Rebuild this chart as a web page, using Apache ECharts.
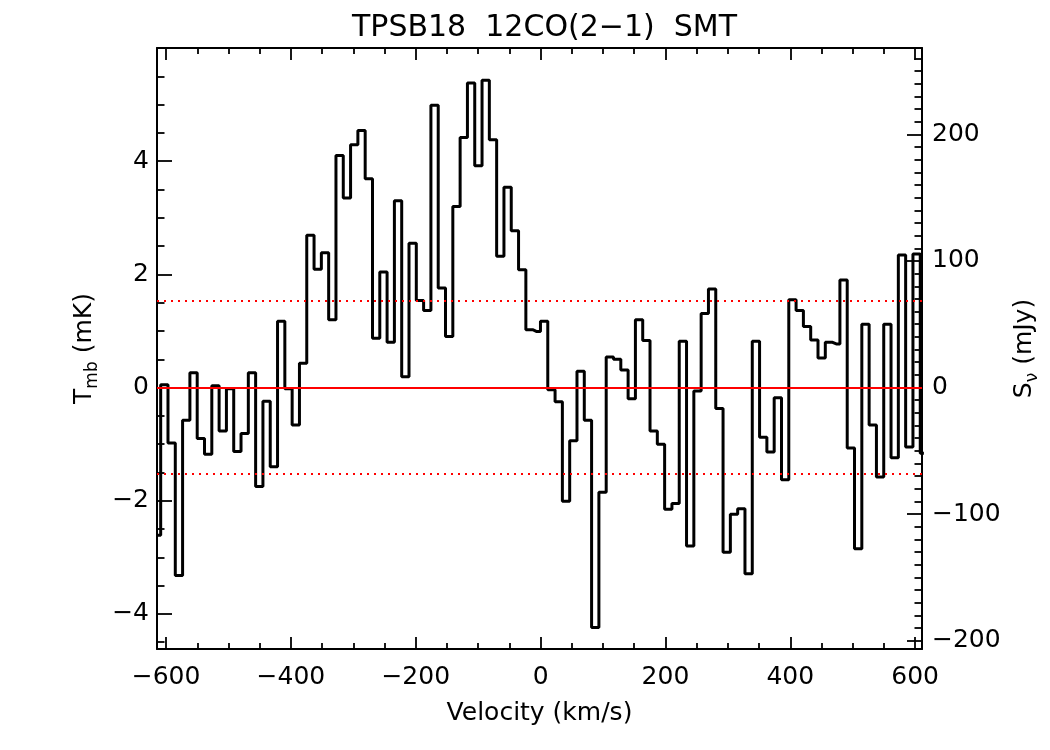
<!DOCTYPE html>
<html><head><meta charset="utf-8">
<script src="https://cdn.jsdelivr.net/npm/echarts@6/dist/echarts.min.js"></script>
<style>html,body{margin:0;padding:0;background:#fff}#c{width:1050px;height:750px}</style>
</head><body><div id="c"></div>
<script>
// Channel velocities (km/s)
const velocity = [
-614.45,-602.75,-591.05,-579.35,-567.65,-555.95,-544.25,-532.55,-520.85,-509.15,
-497.45,-485.75,-474.05,-462.35,-450.65,-438.95,-427.25,-415.55,-403.85,-392.15,
-380.45,-368.75,-357.05,-345.35,-333.65,-321.95,-310.25,-298.55,-286.85,-275.15,
-263.45,-251.75,-240.05,-228.35,-216.65,-204.95,-193.25,-181.55,-169.85,-158.15,
-146.45,-134.75,-123.05,-111.35,-99.65,-87.95,-76.25,-64.55,-52.85,-41.15,
-29.45,-17.75,-6.05,5.65,17.35,29.05,40.75,52.45,64.15,75.85,
87.55,99.25,110.95,122.65,134.35,146.05,157.75,169.45,181.15,192.85,
204.55,216.25,227.95,239.65,251.35,263.05,274.75,286.45,298.15,309.85,
321.55,333.25,344.95,356.65,368.35,380.05,391.75,403.45,415.15,426.85,
438.55,450.25,461.95,473.65,485.35,497.05,508.75,520.45,532.15,543.85,
555.55,567.25,578.95,590.65,602.35,614.05
];
// Main-beam temperature (mK)
const tmb = [
-2.61,0.05,-0.98,-3.32,-0.58,0.26,-0.90,-1.18,0.03,-0.77,
-0.02,-1.13,-0.81,0.26,-1.75,-0.24,-1.40,1.17,-0.02,-0.66,
0.43,2.69,2.09,2.38,1.20,4.10,3.35,4.29,4.54,3.69,
0.87,2.04,0.80,3.30,0.19,2.55,1.54,1.36,4.99,1.76,
0.90,3.20,4.42,5.38,3.92,5.43,4.38,2.32,3.54,2.77,
2.08,1.02,0.99,1.17,-0.04,-0.25,-2.01,-0.94,0.29,-0.58,
-4.24,-1.85,0.54,0.50,0.31,-0.20,1.20,0.83,-0.77,-1.00,
-2.15,-2.05,0.82,-2.80,-0.06,1.31,1.74,-0.37,-2.91,-2.24,
-2.14,-3.29,0.82,-0.88,-1.14,-0.18,-1.63,1.55,1.36,1.08,
0.84,0.52,0.80,0.77,1.90,-1.07,-2.85,1.12,-0.66,-1.58,
1.12,-1.24,2.34,-1.05,2.36,-1.16
];
const zeroLevel = 0;
const rmsLevel = 1.53;
const mJyPerMk = 44.7;
const xRange = [-614.5, 611.0];
const yRange = [-4.62, 6.0];
const xMajorTicks = [-600,-400,-200,0,200,400,600];
const xMinorTicks = [-550,-500,-450,-350,-300,-250,-150,-100,-50,50,100,150,250,300,350,450,500,550];
const yMajorTicks = [-4,-2,0,2,4];
const yMinorTicks = [-4.5,-3.5,-3,-2.5,-1.5,-1,-0.5,0.5,1,1.5,2.5,3,3.5,4.5,5,5.5];
const sMajorTicks = [-200,-100,0,100,200];
const sMinorTicks = [-190,-180,-170,-160,-150,-140,-130,-120,-110,-90,-80,-70,-60,-50,-40,-30,-20,-10,
  10,20,30,40,50,60,70,80,90,110,120,130,140,150,160,170,180,190,210,220,230,240,250,260];

const FONT = 'DejaVu Sans';
const fmt = v => String(v).replace('-', '\u2212');
const lbl = {color:'#000', fontFamily: FONT, fontSize: 25};

function axisBase(extra) {
  return Object.assign({
    type: 'value', scale: false,
    splitLine: {show: false},
    axisLine: {show: false, onZero: false, lineStyle: {color: '#000', width: 2}},
    axisLabel: {show: false},
    axisTick: {show: true, inside: true, lineStyle: {color: '#000', width: 1.8}}
  }, extra);
}

const chart = echarts.init(document.getElementById('c'), null, {renderer: 'canvas'});
chart.setOption({
  animation: false,
  backgroundColor: '#fff',
  title: {
    text: 'TPSB18  12CO(2\u22121)  SMT',
    left: 539.5, top: 8, textAlign: 'center',
    textStyle: {color: '#000', fontFamily: FONT, fontSize: 30, fontWeight: 'normal'}
  },
  grid: {left: 157, top: 48, width: 765, height: 601, containLabel: false},
  xAxis: [
    axisBase({position: 'bottom', min: xRange[0], max: xRange[1],
      axisLine: {show: true, onZero: false, lineStyle: {color: '#000', width: 2}},
      axisTick: {show: true, inside: true, length: 12, customValues: xMajorTicks, lineStyle: {color: '#000', width: 1.8}},
      axisLabel: Object.assign({show: true, margin: 16, customValues: xMajorTicks, formatter: fmt}, lbl),
      name: 'Velocity (km/s)', nameLocation: 'middle', nameGap: 52,
      nameTextStyle: {color: '#000', fontFamily: FONT, fontSize: 25}
    }),
    axisBase({position: 'bottom', min: xRange[0], max: xRange[1],
      axisTick: {show: true, inside: true, length: 6, customValues: xMinorTicks, lineStyle: {color: '#000', width: 1.8}}}),
    axisBase({position: 'top', min: xRange[0], max: xRange[1],
      axisLine: {show: true, onZero: false, lineStyle: {color: '#000', width: 2}},
      axisTick: {show: true, inside: true, length: 12, customValues: xMajorTicks, lineStyle: {color: '#000', width: 1.8}}}),
    axisBase({position: 'top', min: xRange[0], max: xRange[1],
      axisTick: {show: true, inside: true, length: 6, customValues: xMinorTicks, lineStyle: {color: '#000', width: 1.8}}})
  ],
  yAxis: [
    axisBase({position: 'left', min: yRange[0], max: yRange[1],
      axisLine: {show: true, onZero: false, lineStyle: {color: '#000', width: 2}},
      axisTick: {show: true, inside: true, length: 15, customValues: yMajorTicks, lineStyle: {color: '#000', width: 1.8}},
      axisLabel: Object.assign({show: true, margin: 8, customValues: yMajorTicks, formatter: fmt}, lbl),
      name: '{a|T}{b|mb}{a| (mK)}', nameLocation: 'middle', nameGap: 55,
      nameTextStyle: {rich: {
        a: {color: '#000', fontFamily: FONT, fontSize: 25, lineHeight: 34},
        b: {color: '#000', fontFamily: FONT, fontSize: 17, lineHeight: 17, verticalAlign: 'bottom'}
      }}
    }),
    axisBase({position: 'left', min: yRange[0], max: yRange[1],
      axisTick: {show: true, inside: true, length: 7.5, customValues: yMinorTicks, lineStyle: {color: '#000', width: 1.8}}}),
    axisBase({position: 'right', min: yRange[0] * mJyPerMk, max: yRange[1] * mJyPerMk,
      axisLine: {show: true, onZero: false, lineStyle: {color: '#000', width: 2}},
      axisTick: {show: true, inside: true, length: 15, customValues: sMajorTicks, lineStyle: {color: '#000', width: 1.8}},
      axisLabel: Object.assign({show: true, margin: 10, customValues: sMajorTicks, formatter: fmt}, lbl),
      name: '{a|S}{b|\u03bd}{a| (mJy)}', nameLocation: 'middle', nameGap: 83,
      nameTextStyle: {rich: {
        a: {color: '#000', fontFamily: FONT, fontSize: 25, lineHeight: 34},
        b: {color: '#000', fontFamily: FONT, fontSize: 17, lineHeight: 17, verticalAlign: 'bottom'}
      }}
    }),
    axisBase({position: 'right', min: yRange[0] * mJyPerMk, max: yRange[1] * mJyPerMk,
      axisTick: {show: true, inside: true, length: 7.5, customValues: sMinorTicks, lineStyle: {color: '#000', width: 1.8}}})
  ],
  series: [{
    type: 'line', xAxisIndex: 0, yAxisIndex: 0,
    step: 'middle', showSymbol: false, symbol: 'none', clip: true,
    lineStyle: {color: '#000', width: 3},
    data: velocity.map((v, i) => [v, tmb[i]]),
    markLine: {
      silent: true, symbol: ['none', 'none'], label: {show: false},
      emphasis: {disabled: true},
      data: [
        {yAxis: zeroLevel, lineStyle: {color: '#ff0000', width: 2, type: 'solid'}},
        {yAxis: rmsLevel, lineStyle: {color: '#ff0000', width: 2, type: [2, 5]}},
        {yAxis: -rmsLevel, lineStyle: {color: '#ff0000', width: 2, type: [2, 5]}}
      ]
    }
  }]
});
</script>
</body></html>
